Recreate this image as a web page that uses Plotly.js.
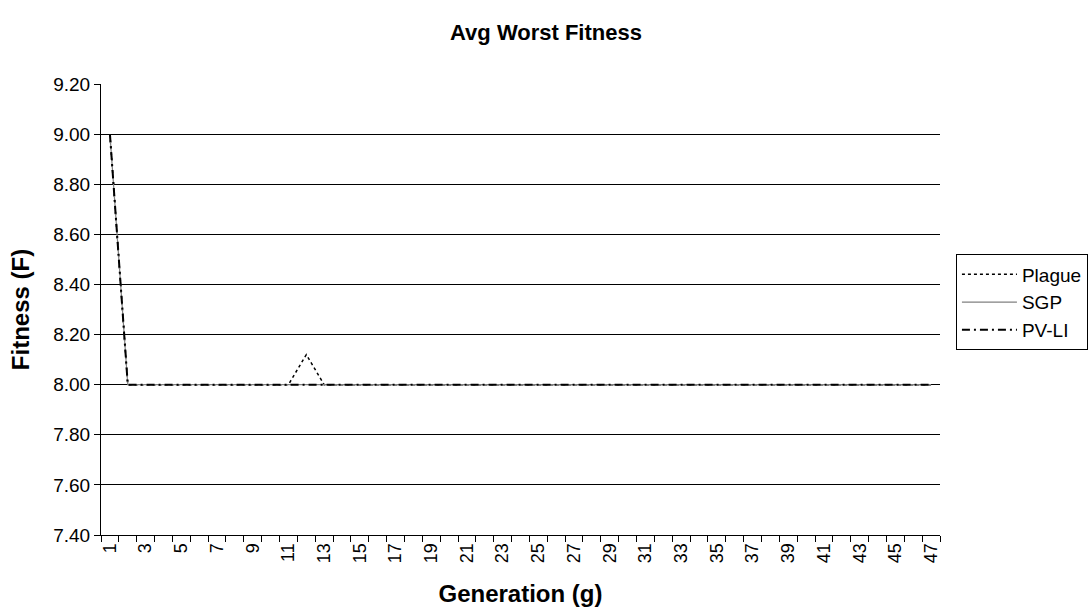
<!DOCTYPE html>
<html>
<head>
<meta charset="utf-8">
<script src="https://cdn.plot.ly/plotly-3.0.1.min.js"></script>
<style>html,body{margin:0;padding:0;background:#fff;}#chart{width:1092px;height:613px;}</style>
</head>
<body>
<div id="chart"></div>
<script>
const generations = [1,2,3,4,5,6,7,8,9,10,11,12,13,14,15,16,17,18,19,20,21,22,23,24,25,26,27,28,29,30,31,32,33,34,35,36,37,38,39,40,41,42,43,44,45,46,47];
const plague = [9.00,8.00,8.00,8.00,8.00,8.00,8.00,8.00,8.00,8.00,8.00,8.12,8.00,8.00,8.00,8.00,8.00,8.00,8.00,8.00,8.00,8.00,8.00,8.00,8.00,8.00,8.00,8.00,8.00,8.00,8.00,8.00,8.00,8.00,8.00,8.00,8.00,8.00,8.00,8.00,8.00,8.00,8.00,8.00,8.00,8.00,8.00];
const sgp = [9.00,8.00,8.00,8.00,8.00,8.00,8.00,8.00,8.00,8.00,8.00,8.00,8.00,8.00,8.00,8.00,8.00,8.00,8.00,8.00,8.00,8.00,8.00,8.00,8.00,8.00,8.00,8.00,8.00,8.00,8.00,8.00,8.00,8.00,8.00,8.00,8.00,8.00,8.00,8.00,8.00,8.00,8.00,8.00,8.00,8.00,8.00];
const pvli = [9.00,8.00,8.00,8.00,8.00,8.00,8.00,8.00,8.00,8.00,8.00,8.00,8.00,8.00,8.00,8.00,8.00,8.00,8.00,8.00,8.00,8.00,8.00,8.00,8.00,8.00,8.00,8.00,8.00,8.00,8.00,8.00,8.00,8.00,8.00,8.00,8.00,8.00,8.00,8.00,8.00,8.00,8.00,8.00,8.00,8.00,8.00];
const xTickLabels = ['1','3','5','7','9','11','13','15','17','19','21','23','25','27','29','31','33','35','37','39','41','43','45','47'];
const yTickVals = [7.4,7.6,7.8,8.0,8.2,8.4,8.6,8.8,9.0,9.2];

const xLabelVals = xTickLabels.map(Number);
const boundaries = [];
for (let i = 0; i <= generations.length; i++) boundaries.push(generations[0] - 0.5 + i);

const font = 'Arial, "Liberation Sans", sans-serif';
const traces = [
  {x: generations, y: plague, name: 'Plague', mode: 'lines', line: {color: '#000000', width: 1.5, dash: 'dot'}},
  {x: generations, y: sgp, name: 'SGP', mode: 'lines', line: {color: '#808080', width: 1.2}},
  {x: generations, y: pvli, name: 'PV-LI', mode: 'lines', line: {color: '#000000', width: 2, dash: '8px,4px,2px,4px'}},
  {x: [boundaries[0]], y: [null], xaxis: 'x2', showlegend: false, hoverinfo: 'skip', mode: 'lines'}
];
const range = [boundaries[0], boundaries[boundaries.length - 1]];
const layout = {
  width: 1092, height: 613,
  paper_bgcolor: '#ffffff', plot_bgcolor: '#ffffff',
  margin: {l: 101, r: 152, t: 84, b: 78, autoexpand: false},
  font: {family: font, color: '#000000'},
  title: {text: '<b>Avg Worst Fitness</b>', font: {family: font, size: 22, color: '#000'}, x: 0.5, xref: 'container', y: 1 - 32/613, yanchor: 'middle'},
  showlegend: true,
  legend: {x: 1.019, xanchor: 'left', y: 0.622, yanchor: 'top', bordercolor: '#000000', borderwidth: 1, font: {family: font, size: 19, color: '#000'}, tracegroupgap: 0, itemwidth: 55},
  xaxis: {
    range: range, tickmode: 'array', tickvals: xLabelVals, ticktext: xTickLabels,
    tickangle: -90, ticks: '', showgrid: false, zeroline: false,
    showline: true, linecolor: '#000000', linewidth: 1,
    tickfont: {family: font, size: 18, color: '#000'},
    title: {text: '<b>Generation (g)</b>', font: {family: font, size: 24, color: '#000'}, standoff: 22}
  },
  xaxis2: {
    overlaying: 'x', range: range, tickmode: 'array', tickvals: boundaries, ticktext: boundaries.map(() => ''),
    ticks: 'outside', ticklen: 6, tickcolor: '#000000', showgrid: false, zeroline: false, showline: false,
    anchor: 'y', side: 'bottom', showticklabels: false
  },
  yaxis: {
    range: [7.4, 9.2], tickmode: 'array', tickvals: yTickVals, tickformat: '.2f',
    ticks: 'outside', ticklen: 6, tickcolor: '#000000',
    showgrid: true, gridcolor: '#000000', gridwidth: 1, zeroline: false,
    showline: true, linecolor: '#000000', linewidth: 1,
    tickfont: {family: font, size: 19, color: '#000'},
    title: {text: '<b>Fitness (F)</b>', font: {family: font, size: 24, color: '#000'}, standoff: 16}
  }
};
Plotly.newPlot('chart', traces, layout, {displayModeBar: false, staticPlot: true});
</script>
</body>
</html>
